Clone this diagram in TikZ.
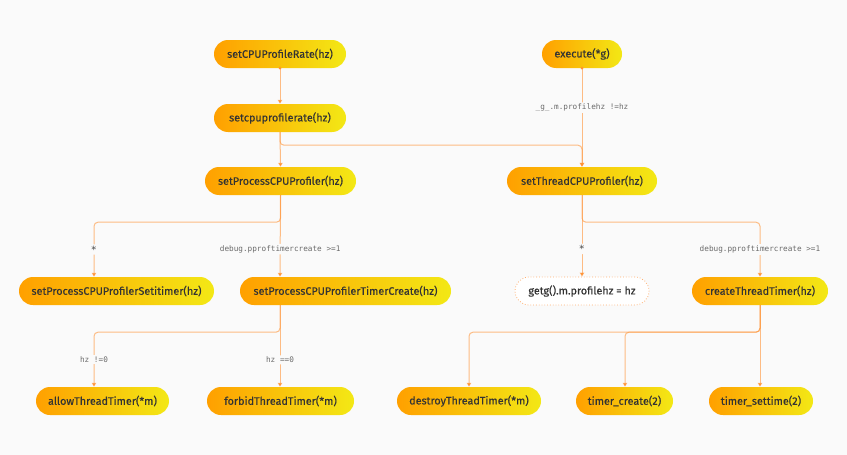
\documentclass[tikz,border=0pt]{standalone}
\usepackage{fontspec}
\setmainfont{Fira Sans}
\newfontfamily\fnfont{Fira Sans}[FakeBold=0.35]
\newfontfamily\lblfont{DejaVu Sans Mono}
\usetikzlibrary{arrows.meta}
\definecolor{bg}{HTML}{FAFAFA}
\definecolor{fnL}{HTML}{FFA000}
\definecolor{fnR}{HTML}{F3E815}
\definecolor{txt}{HTML}{333333}
\definecolor{lbltxt}{HTML}{6A6A6A}
\definecolor{edgec}{HTML}{FF9234}
\definecolor{dotb}{HTML}{FFB070}
\tikzset{
  fn/.style={rounded corners=14pt, left color=fnL, right color=fnR, minimum height=28pt,
    inner sep=0pt, font=\fnfont\fontsize{10.8}{12}\selectfont, text=txt},
  fnplain/.style={rounded corners=14pt, fill=white, draw=dotb, dotted, line width=0.8pt, minimum height=28pt,
    inner sep=0pt, font=\fnfont\fontsize{10.8}{12}\selectfont, text=txt},
  edge/.style={draw=edgec, draw opacity=0.6, line width=1pt, rounded corners=4pt,
    -{Triangle[length=4pt,width=4.5pt,fill=edgec]}},
  lbl/.style={fill=bg, inner sep=1.5pt, font=\lblfont\fontsize{7.7}{9}\selectfont, text=lbltxt},
  lblstar/.style={lbl, font=\lblfont\fontsize{10}{10}\selectfont, text=txt!90},
  startdot/.style={circle, fill=edgec, inner sep=0pt, minimum size=3pt},
}
\begin{document}
\begin{tikzpicture}[x=1pt,y=-1pt]
\fill[bg] (0,0) rectangle (847,455);
\useasboundingbox (0,0) rectangle (847,455);
% nodes
\node[fn, minimum width=132pt] (rate) at (280,54) {setCPUProfileRate(hz)};
\node[fn, minimum width=132pt] (scr) at (280,118) {setcpuprofilerate(hz)};
\node[fn, minimum width=151pt] (pcp) at (280.5,181) {setProcessCPUProfiler(hz)};
\node[fn, minimum width=80pt] (exe) at (582,54) {execute(*g)};
\node[fn, minimum width=150pt] (tcp) at (582,181) {setThreadCPUProfiler(hz)};
\node[fn, minimum width=195pt] (sit) at (116.5,291) {setProcessCPUProfilerSetitimer(hz)};
\node[fn, minimum width=211pt] (ptc) at (345.5,291) {setProcessCPUProfilerTimerCreate(hz)};
\node[fnplain, minimum width=134pt] (getg) at (582,291) {getg().m.profilehz = hz};
\node[fn, minimum width=136pt] (ctt) at (760,291) {createThreadTimer(hz)};
\node[fn, minimum width=133pt] (allow) at (102.5,401) {allowThreadTimer(*m)};
\node[fn, minimum width=147pt] (forbid) at (280.5,401) {forbidThreadTimer(*m)};
\node[fn, minimum width=144pt] (destroy) at (469,401) {destroyThreadTimer(*m)};
\node[fn, minimum width=97pt] (tcreate) at (624.5,401) {timer\_create(2)};
\node[fn, minimum width=104pt] (tset) at (761,401) {timer\_settime(2)};
% edges
\draw[edge] (rate.south) -- (scr.north);
\node[startdot] (d1) at (rate.south) {};
\draw[edge] (scr.south) -- (pcp.north);
\draw[edge] (scr.south) -- ++(0,13) -| (tcp.north);
\draw[edge] (exe.south) -- node[pos=0.4, lbl] {\_g\_.m.profilehz !=hz} (tcp.north);
\node[startdot] (d2) at (exe.south) {};
\draw[edge] (pcp.south) -- ++(0,27) -| ([xshift=-22.5pt]sit.north) node[pos=0.75, lblstar] {*};
\draw[edge] (pcp.south) -- node[pos=0.66, lbl] {debug.pproftimercreate >=1} ([xshift=-65.5pt]ptc.north);
\draw[edge] (tcp.south) -- node[pos=0.66, lblstar] {*} (getg.north);
\draw[edge] (tcp.south) -- ++(0,27) -| (ctt.north) node[pos=0.75, lbl] {debug.pproftimercreate >=1};
\draw[edge] ([xshift=-65.5pt]ptc.south) -- ++(0,27) -| ([xshift=-8.5pt]allow.north) node[pos=0.75, lbl] {hz !=0};
\draw[edge] ([xshift=-65.5pt]ptc.south) -- node[pos=0.67, lbl] {hz ==0} ([xshift=-0.5pt]forbid.north);
\draw[edge] (ctt.south) -- ++(0,27) -| (destroy.north);
\draw[edge] (ctt.south) -- ++(0,27) -| ([xshift=0.5pt]tcreate.north);
\draw[edge] (ctt.south) -- ([xshift=-1pt]tset.north);
\end{tikzpicture}
\end{document}
